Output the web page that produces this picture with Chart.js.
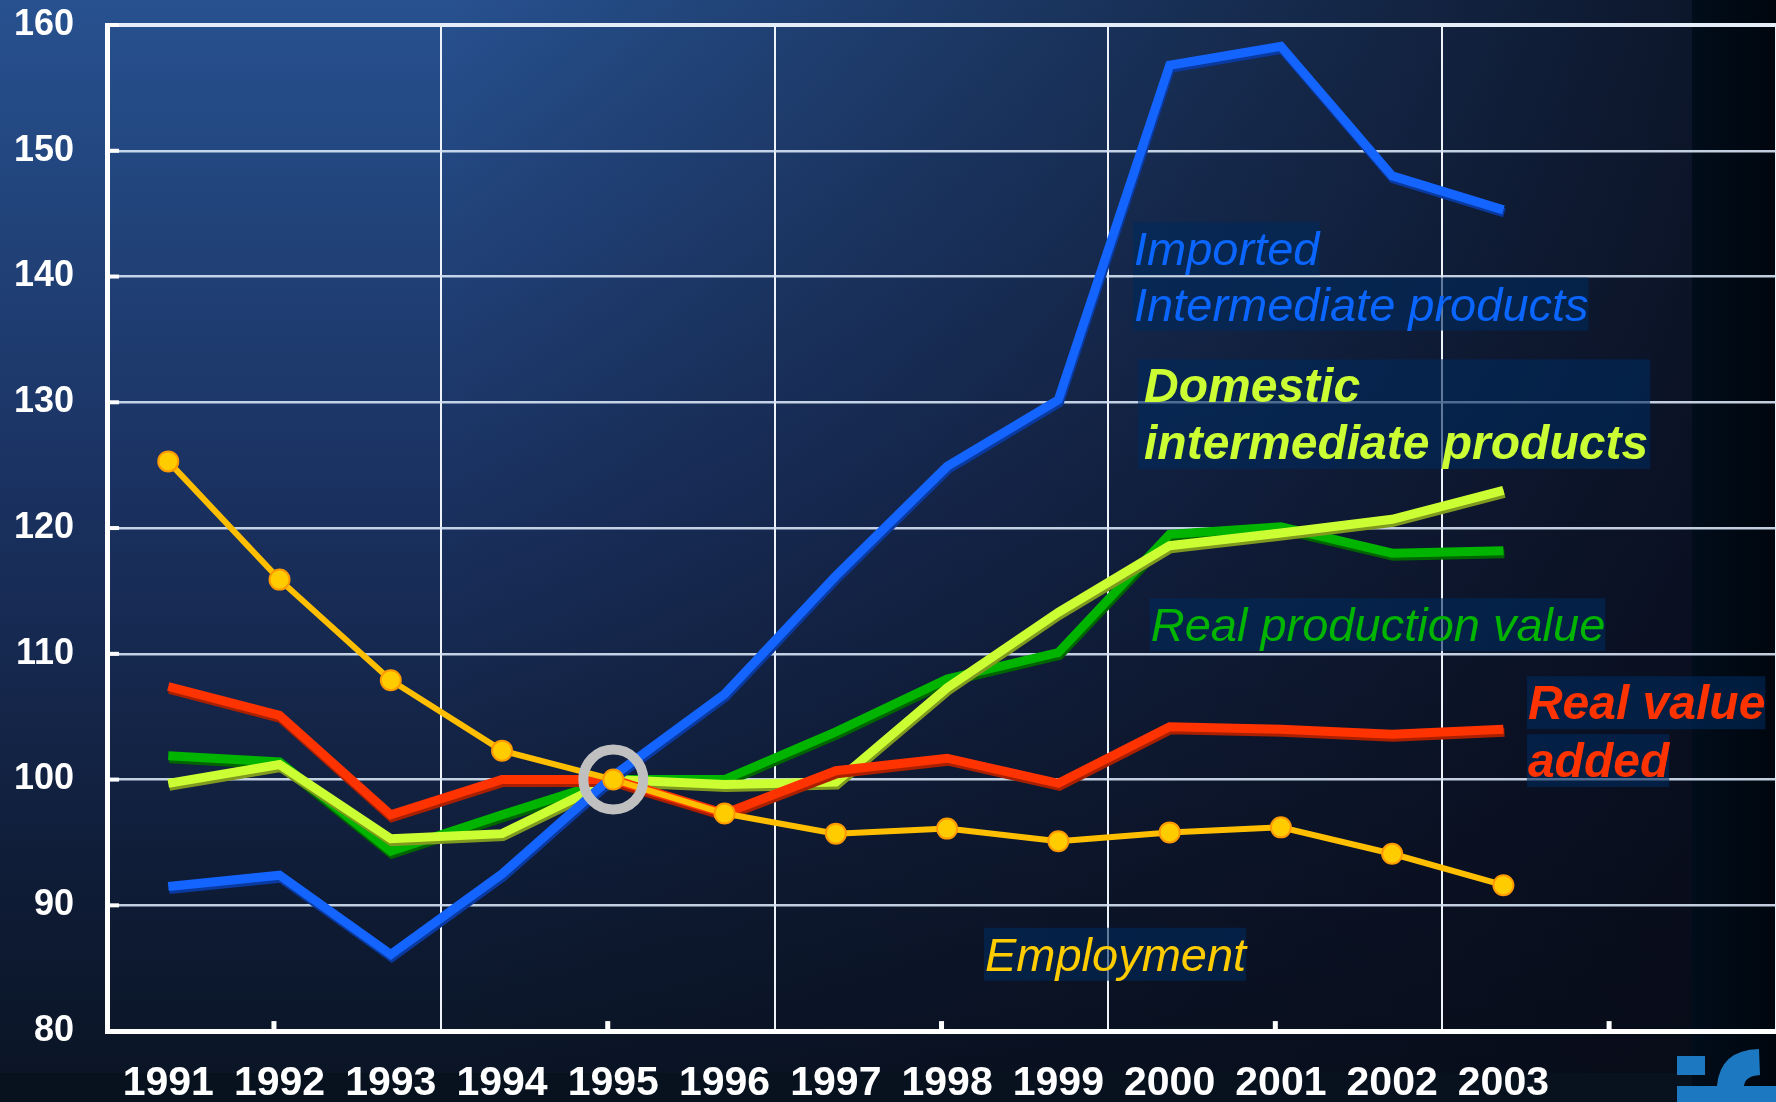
<!DOCTYPE html>
<html>
<head>
<meta charset="utf-8">
<script src="https://cdn.jsdelivr.net/npm/chart.js@4.4.1/dist/chart.umd.min.js"></script>
<style>
  html, body { margin: 0; padding: 0; background: #0a1322; }
  #wrap { width: 1776px; height: 1102px; position: relative; }
</style>
</head>
<body>
<div id="wrap"><canvas id="chart"></canvas></div>
<script>
// values (index, 1995 = 100)
const years = [1991, 1992, 1993, 1994, 1995, 1996, 1997, 1998, 1999, 2000, 2001, 2002, 2003]
const imported = [91.5, 92.4, 86.1, 92.5, 100.3, 106.8, 116.2, 124.9, 130.2, 156.8, 158.3, 148.0, 145.3]
const domestic = [99.7, 101.2, 95.3, 95.7, 100.0, 99.6, 99.8, 107.3, 113.3, 118.6, 119.6, 120.7, 123.0]
const realProduction = [101.9, 101.4, 94.3, 97.2, 100.0, 100.0, 103.8, 108.0, 110.1, 119.5, 120.1, 118.0, 118.2]
const realValueAdded = [107.4, 105.1, 97.2, 100.0, 100.0, 97.3, 100.7, 101.7, 99.7, 104.2, 104.0, 103.6, 104.0]
const employment = [125.3, 115.9, 107.9, 102.3, 100.0, 97.3, 95.7, 96.1, 95.1, 95.8, 96.2, 94.1, 91.6]
const yTicks = [80, 90, 100, 110, 120, 130, 140, 150, 160]
// vertical grid marks (every 1.5 years, every other one is a full line)
const gridMarks = [1990.45, 1991.95, 1993.45, 1994.95, 1996.45, 1997.95, 1999.45, 2000.95, 2002.45, 2003.95, 2005.45]
const baseYear = [1995]
const baseValue = [100]

const family = "'Liberation Sans', Arial, sans-serif"
const xMin = 1990.45, xMax = 2005.45

// series names written into the plot, anchored in data units
const annotations = [
  { lines: ['Imported', 'Intermediate products'], x: 1999.68, y: [140.9, 136.5], color: '#0a66ff', bold: false, size: 47 },
  { lines: ['Domestic', 'intermediate products'], x: 1999.77, y: [130.0, 125.5], color: '#ccff33', bold: true, size: 48, block: true },
  { lines: ['Real production value'], x: 1999.83, y: [111.0], color: '#00b400', bold: false, size: 47 },
  { lines: ['Real value', 'added'], x: 2003.22, y: [104.8, 100.2], color: '#ff3300', bold: true, size: 48 },
  { lines: ['Employment'], x: 1998.34, y: [84.8], color: '#ffcc00', bold: false, size: 47 }
]

const pts = vals => vals.map((v, i) => ({ x: years[i], y: v }))

const backdrop = {
  id: 'backdrop',
  beforeDraw(chart) {
    const { ctx, width, height } = chart
    ctx.save()
    let g = ctx.createLinearGradient(0, 0, 0, height)
    g.addColorStop(0, '#27518f')
    g.addColorStop(0.45, '#1a3160')
    g.addColorStop(0.8, '#0f1c36')
    g.addColorStop(1, '#0a1424')
    ctx.fillStyle = g
    ctx.fillRect(0, 0, width, height)
    g = ctx.createLinearGradient(450, 0, 1692, 0)
    g.addColorStop(0, 'rgba(7,10,22,0)')
    g.addColorStop(1, 'rgba(7,10,22,0.82)')
    ctx.fillStyle = g
    ctx.fillRect(0, 0, width, height)
    ctx.fillStyle = '#08121f'
    ctx.fillRect(0, 1073, 1692, height - 1073)
    g = ctx.createLinearGradient(1692, 0, width, 0)
    g.addColorStop(0, '#010d1a')
    g.addColorStop(1, '#00060e')
    ctx.fillStyle = g
    ctx.fillRect(1692, 0, width - 1692, height)
    ctx.restore()
  }
}

const innerTicks = {
  id: 'innerTicks',
  beforeDatasetsDraw(chart) {
    const { ctx, chartArea, scales } = chart
    ctx.save()
    ctx.fillStyle = '#ffffff'
    yTicks.forEach(v => {
      const py = scales.y.getPixelForValue(v)
      ctx.fillRect(chartArea.left, py - 2, 12, 4)
    })
    gridMarks.forEach((v, i) => {
      if (i % 2 === 0) return
      const px = scales.xGrid.getPixelForValue(v)
      ctx.fillRect(px - 2.5, chartArea.bottom - 10, 5, 10)
    })
    ctx.restore()
  }
}

const lineShadow = {
  id: 'lineShadow',
  beforeDatasetDraw(chart, args) {
    const ds = chart.data.datasets[args.index]
    if (!ds.shadow) return
    const ctx = chart.ctx
    ctx.save()
    ctx.shadowColor = ds.shadow
    ctx.shadowOffsetX = 1
    ctx.shadowOffsetY = 3
    ctx.shadowBlur = 0
  },
  afterDatasetDraw(chart, args) {
    if (chart.data.datasets[args.index].shadow) chart.ctx.restore()
  }
}

const seriesText = {
  id: 'seriesText',
  afterDatasetsDraw(chart) {
    const { ctx, scales: { x, y } } = chart
    ctx.save()
    ctx.textBaseline = 'alphabetic'
    annotations.forEach(a => {
      ctx.font = `italic ${a.bold ? 'bold ' : ''}${a.size}px ${family}`
      const left = x.getPixelForValue(a.x)
      const bases = a.y.map(v => y.getPixelForValue(v))
      const widths = a.lines.map(t => ctx.measureText(t).width)
      ctx.fillStyle = 'rgba(0,42,92,0.6)'
      if (a.block) {
        const w = Math.max(...widths)
        ctx.fillRect(left - 6, bases[0] - 43, w + 8, bases[bases.length - 1] - bases[0] + 53)
      } else {
        a.lines.forEach((t, i) => ctx.fillRect(left - 1, bases[i] - 43, widths[i] + 1, 53))
      }
      ctx.fillStyle = a.color
      a.lines.forEach((t, i) => ctx.fillText(t, left, bases[i]))
    })
    ctx.restore()
  }
}

const logo = {
  id: 'logo',
  afterDraw(chart) {
    const ctx = chart.ctx
    ctx.save()
    ctx.fillStyle = '#1c78c0'
    ctx.fillRect(1677, 1056, 28, 19)
    ctx.beginPath()
    ctx.moveTo(1677, 1086)
    ctx.lineTo(1717, 1086)
    ctx.quadraticCurveTo(1720, 1050, 1759, 1049)
    ctx.lineTo(1760, 1075)
    ctx.quadraticCurveTo(1745, 1076, 1744, 1086)
    ctx.lineTo(1776, 1086)
    ctx.lineTo(1776, 1102)
    ctx.lineTo(1677, 1102)
    ctx.closePath()
    ctx.fill()
    ctx.restore()
  }
}

const thick = (label, data, color, shadow, order) => ({
  label, data: pts(data), borderColor: color, backgroundColor: color, shadow,
  borderWidth: 9, pointRadius: 0, tension: 0, order,
  borderJoinStyle: 'miter', borderCapStyle: 'butt'
})

// labels sit well inside the canvas: drop the edge padding and the outer tick padding chart.js reserves
const fitX = axis => {
  axis.paddingLeft = 0; axis.paddingRight = 0
  if (axis.options.ticks.display) axis.height -= axis.options.ticks.padding
}
const fitY = axis => {
  axis.paddingTop = 0; axis.paddingBottom = 0
  axis.width -= axis.options.ticks.padding
}

new Chart(document.getElementById('chart'), {
  type: 'line',
  data: {
    datasets: [
      {
        label: 'Base year',
        data: baseYear.map((v, i) => ({ x: v, y: baseValue[i] })),
        showLine: false,
        pointRadius: 30,
        pointBorderWidth: 10,
        pointBorderColor: '#c0c0c0',
        pointBackgroundColor: 'rgba(0,0,0,0)',
        order: 0
      },
      {
        label: 'Employment',
        data: pts(employment),
        borderColor: '#ffbf00',
        borderWidth: 6,
        pointRadius: 10,
        pointBorderWidth: 2,
        pointBackgroundColor: '#ffcc00',
        pointBorderColor: '#ff9900',
        tension: 0,
        order: 1
      },
      thick('Imported intermediate products', imported, '#1464ff', '#0a3aa0', 2),
      thick('Real value added', realValueAdded, '#ff3300', '#a82000', 3),
      thick('Domestic intermediate products', domestic, '#ccff33', '#7f9a1e', 4),
      thick('Real production value', realProduction, '#00b400', '#006400', 5)
    ]
  },
  options: {
    responsive: true,
    maintainAspectRatio: false,
    animation: false,
    layout: { autoPadding: false, padding: { left: 14, top: 25, right: 0, bottom: 0 } },
    plugins: {
      legend: { display: false },
      tooltip: { enabled: false }
    },
    scales: {
      x: {
        type: 'linear',
        position: 'bottom',
        min: xMin,
        max: xMax,
        afterBuildTicks: axis => { axis.ticks = years.map(v => ({ value: v })) },
        afterFit: fitX,
        ticks: {
          color: '#ffffff',
          font: { family, size: 41, weight: 'bold', lineHeight: 0.9 },
          padding: 34,
          maxRotation: 0,
          autoSkip: false,
          callback: v => String(v)
        },
        grid: { display: false, drawTicks: false },
        border: { display: true, color: '#ffffff', width: 5 }
      },
      xGrid: {
        type: 'linear',
        position: 'bottom',
        min: xMin,
        max: xMax,
        afterBuildTicks: axis => { axis.ticks = gridMarks.map(v => ({ value: v })) },
        afterFit: fitX,
        ticks: { display: false },
        grid: {
          color: c => c.index % 2 === 0 ? '#eef3fa' : 'rgba(0,0,0,0)',
          lineWidth: 2,
          drawTicks: false
        },
        border: { display: false }
      },
      y: {
        min: 80,
        max: 160,
        afterBuildTicks: axis => { axis.ticks = yTicks.map(v => ({ value: v })) },
        afterFit: fitY,
        ticks: {
          color: '#ffffff',
          font: { family, size: 36, weight: 'bold' },
          padding: 33
        },
        grid: {
          color: c => c.tick && c.tick.value === 160 ? '#e4edf8' : 'rgba(215,228,245,0.9)',
          lineWidth: c => c.tick && c.tick.value === 160 ? 4 : 2.5,
          drawTicks: false
        },
        border: { display: true, color: '#ffffff', width: 5 }
      }
    }
  },
  plugins: [backdrop, innerTicks, lineShadow, seriesText, logo]
})
</script>
</body>
</html>
